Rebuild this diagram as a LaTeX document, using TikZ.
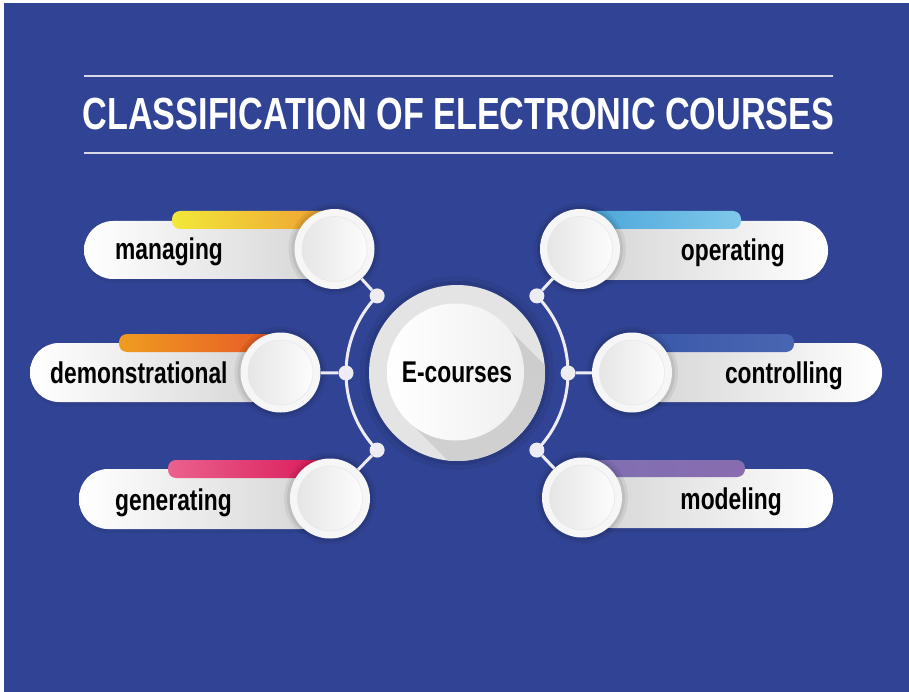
\documentclass[tikz,border=0pt]{standalone}
\usepackage{fontspec}
\newfontfamily\labelfont[FakeStretch=0.76]{Liberation Sans}
\usetikzlibrary{calc}

\definecolor{bgblue}{RGB}{49,67,148}
\definecolor{rulecol}{RGB}{214,218,232}
\definecolor{linkcol}{RGB}{236,236,242}
\definecolor{ringcol}{RGB}{246,246,246}
\definecolor{hubring}{RGB}{228,228,228}
\definecolor{hubshade}{RGB}{204,204,204}
% bar colours
\definecolor{yelA}{RGB}{242,232,58}
\definecolor{yelB}{RGB}{238,160,50}
\definecolor{orA}{RGB}{240,156,32}
\definecolor{orB}{RGB}{230,88,38}
\definecolor{pkA}{RGB}{234,98,142}
\definecolor{pkB}{RGB}{218,26,90}
\definecolor{skA}{RGB}{74,166,218}
\definecolor{skB}{RGB}{128,200,234}
\definecolor{blA}{RGB}{58,88,170}
\definecolor{blM}{RGB}{92,144,210}
\definecolor{blB}{RGB}{72,102,176}
\definecolor{vlA}{RGB}{128,112,178}
\definecolor{vlM}{RGB}{164,154,208}
\definecolor{vlB}{RGB}{136,108,176}

\begin{document}
\begin{tikzpicture}[x=1pt,y=-1pt,
  lbl/.style={font=\labelfont\bfseries\fontsize{30}{30}\selectfont, text=black, inner sep=0pt},
  titletext/.style={font=\labelfont\bfseries\fontsize{45}{50}\selectfont, text=white, inner sep=0pt},
  rule/.style={draw=rulecol, line width=1.6pt},
  pillshadow/.style={fill=black, opacity=0.06, rounded corners=29pt},
  pillL/.style={left color=white, right color=black!17, rounded corners=29pt},
  pillR/.style={left color=black!17, right color=white, rounded corners=29pt},
  barshape/.style={rounded corners=8pt},
  link/.style={draw=linkcol, line width=3pt},
  dot/.style={circle, fill=linkcol, minimum size=15pt, inner sep=0pt},
  ring/.style={circle, fill=ringcol, minimum size=80pt, inner sep=0pt,
    preaction={draw=black, opacity=0.06, line width=12pt},
    preaction={draw=black, opacity=0.07, line width=6pt},
    path picture={
      \shade[left color=black!11, right color=white]
        (path picture bounding box.center) circle (32.5pt);
      \draw[black!9, line width=0.6pt]
        (path picture bounding box.center) circle (32.5pt);
    }},
  hubinner/.style={circle, minimum size=137pt, inner sep=0pt,
    left color=white, right color=black!6},
]
\useasboundingbox (0,0) rectangle (909,692);
\fill[white] (0,0) rectangle (909,692);
\fill[bgblue] (4,3) rectangle (909,692);

% heading between two rules
\draw[rule] (84,76) -- (833,76);
\draw[rule] (84,153) -- (833,153);
\node[titletext, anchor=base] (title) at (458.5,130) {CLASSIFICATION OF ELECTRONIC COURSES};

% pill shadows
\fill[pillshadow] (84,224) rectangle (335,283);
\fill[pillshadow] (30,346) rectangle (281,406);
\fill[pillshadow] (79,472) rectangle (330,533);
\fill[pillshadow] (580,224) rectangle (828,284);
\fill[pillshadow] (632,346) rectangle (882,406);
\fill[pillshadow] (582,472) rectangle (833,532);

% pills
\shade[pillL] (84,221) rectangle (335,279);
\shade[pillL] (30,343) rectangle (281,402);
\shade[pillL] (79,469) rectangle (330,529);
\shade[pillR] (580,221) rectangle (828,280);
\shade[pillR] (632,343) rectangle (882,402);
\shade[pillR] (582,469) rectangle (833,528);

% colour bars
\shade[barshape, left color=yelA, right color=yelB] (172,211) rectangle (330,229);
\shade[barshape, left color=orA, right color=orB] (119,334) rectangle (276,352);
\shade[barshape, left color=pkA, right color=pkB] (168,460) rectangle (325,478);
\shade[barshape, left color=skA, right color=skB] (585,211) rectangle (741,229);
\shade[barshape, left color=blA, middle color=blM, right color=blB] (637,334) rectangle (794,352);
\shade[barshape, left color=vlA, middle color=vlM, right color=vlB] (587,460) rectangle (745,477);

% central hub
\coordinate (cen) at (457,373);
\fill[black, opacity=0.06] (cen) circle (97);
\fill[black, opacity=0.07] (cen) circle (92);
\fill[hubring] (cen) circle (88);
\coordinate (hc) at (455.5,372);
\begin{scope}
  \clip (cen) circle (88);
  \shade[top color=hubshade, bottom color=hubshade!85!white]
    ($(hc)+(135:68)$) -- ($(hc)+(135:68)+(45:220)$)
    -- ($(hc)+(315:68)+(45:220)$) -- ($(hc)+(315:68)$) -- cycle;
\end{scope}
\node[hubinner] (hub) at (hc) {};
\node[lbl] (hubtext) at (457,372) {E-courses};

% arcs around the hub
\draw[link] ($(cen)+(224:111)$) arc[start angle=224, end angle=136, radius=111];
\draw[link] ($(cen)+(-44:111)$) arc[start angle=-44, end angle=44, radius=111];

% junction dots
\node[dot] (dl1) at ($(cen)+(224:111)$) {};
\node[dot] (dl2) at ($(cen)+(180:111)$) {};
\node[dot] (dl3) at ($(cen)+(136:111)$) {};
\node[dot] (dr1) at ($(cen)+(-44:111)$) {};
\node[dot] (dr2) at ($(cen)+(0:111)$) {};
\node[dot] (dr3) at ($(cen)+(44:111)$) {};

% item circles
\node[ring] (cl1) at (334.5,249) {};
\node[ring] (cl2) at (280.5,372.5) {};
\node[ring] (cl3) at (330,498.5) {};
\node[ring] (cr1) at (580,249) {};
\node[ring] (cr2) at (632,372.5) {};
\node[ring] (cr3) at (582,497.5) {};

% spokes
\draw[link] (dl1) -- (cl1);
\draw[link] (dl2) -- (cl2);
\draw[link] (dl3) -- (cl3);
\draw[link] (dr1) -- (cr1);
\draw[link] (dr2) -- (cr2);
\draw[link] (dr3) -- (cr3);

% labels
\node[lbl, anchor=base west] (tmanaging) at (115,260) {managing};
\node[lbl, anchor=base west] (tdemo) at (50,383) {demonstrational};
\node[lbl, anchor=base west] (tgen) at (115,510) {generating};
\node[lbl, anchor=base east] (toper) at (785,261) {operating};
\node[lbl, anchor=base east] (tcontr) at (843,383) {controlling};
\node[lbl, anchor=base east] (tmodel) at (782,509) {modeling};
\end{tikzpicture}
\end{document}
